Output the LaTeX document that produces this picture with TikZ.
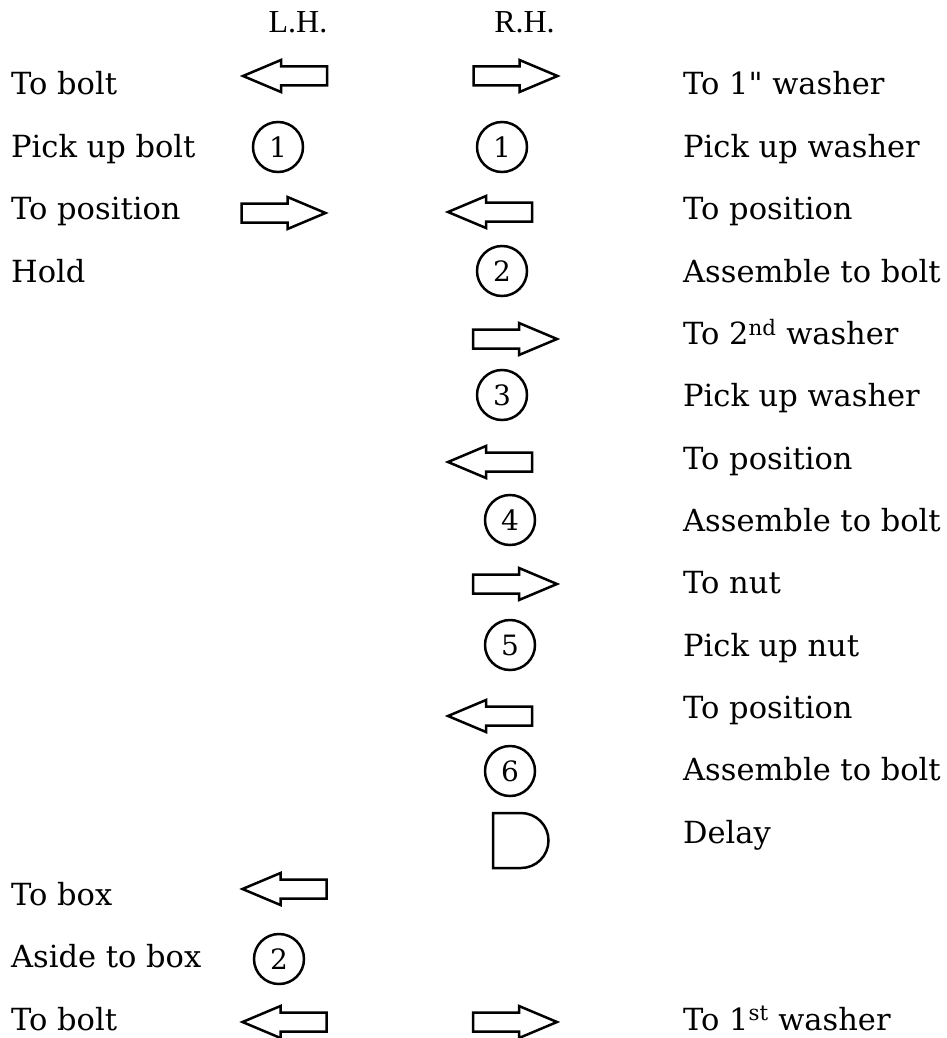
\documentclass[tikz,border=0pt]{standalone}
\usepackage{fontspec}
\setmainfont{DejaVu Serif}
\newfontfamily\hdrfont{Liberation Serif}
\newfontfamily\qfont{DejaVu Serif}
\begin{document}
\begin{tikzpicture}[x=1pt,y=-1pt,
  lbl/.style={anchor=base west, inner sep=0pt, font=\fontsize{30.5}{36}\selectfont},
  hdr/.style={anchor=base, inner sep=0pt, font=\hdrfont\fontsize{32}{38}\selectfont},
  num/.style={circle, draw, line width=2.5pt, minimum size=50pt, inner sep=0pt, font=\fontsize{28}{32}\selectfont},
  shp/.style={draw, line width=2.5pt, line join=miter},
  rarr/.pic={\draw[shp] (-42,-9.5) -- (4,-9.5) -- (4,-16) -- (42,0) -- (4,16) -- (4,9.5) -- (-42,9.5) -- cycle;},
  larr/.pic={\draw[shp] (42,-9.5) -- (-4,-9.5) -- (-4,-16) -- (-42,0) -- (-4,16) -- (-4,9.5) -- (42,9.5) -- cycle;},
  delay/.pic={\draw[shp] (0,27.5) -- (-28,27.5) -- (-28,-27.5) -- (0,-27.5) arc[start angle=-90, end angle=90, radius=27.5];}
]
\useasboundingbox (0,0) rectangle (947,1038);

% headers
\node[hdr] (lh) at (298,33) {L.H.};
\node[hdr] (rh) at (524.5,33) {R.H.};

% left column texts
\node[lbl] (l0) at (11,95) {To bolt};
\node[lbl] (l1) at (11,157.3) {Pick up bolt};
\node[lbl] (l2) at (11,219.7) {To position};
\node[lbl] (l3) at (11,282) {Hold};
\node[lbl] (l13) at (11,905.3) {To box};
\node[lbl] (l14) at (11,967.7) {Aside to box};
\node[lbl] (l15) at (11,1030) {To bolt};

% right column texts
\node[lbl] (r0) at (683,95) {To 1{\qfont"} washer};
\node[lbl] (r1) at (683,157.3) {Pick up washer};
\node[lbl] (r2) at (683,219.7) {To position};
\node[lbl] (r3) at (683,282) {Assemble to bolt};
\node[lbl] (r4) at (683,344.3) {To 2\textsuperscript{nd} washer};
\node[lbl] (r5) at (683,406.7) {Pick up washer};
\node[lbl] (r6) at (683,469) {To position};
\node[lbl] (r7) at (683,531.3) {Assemble to bolt};
\node[lbl] (r8) at (683,593.7) {To nut};
\node[lbl] (r9) at (683,656) {Pick up nut};
\node[lbl] (r10) at (683,718.3) {To position};
\node[lbl] (r11) at (683,780.7) {Assemble to bolt};
\node[lbl] (r12) at (683,843) {Delay};
\node[lbl] (r15) at (683,1030) {To 1\textsuperscript{st} washer};

% left hand symbols
\pic (la0) at (285,76) {larr};
\node[num] (lc1) at (278,147) {1};
\pic (la2) at (283.5,213) {rarr};
\pic (la13) at (284.5,889) {larr};
\node[num] (lc14) at (279,959) {2};
\pic (la15) at (284.5,1022) {larr};

% right hand symbols
\pic (ra0) at (515.5,76) {rarr};
\node[num] (rc1) at (502,147) {1};
\pic (ra2) at (490,212) {larr};
\node[num] (rc3) at (502,271) {2};
\pic (ra4) at (515,339) {rarr};
\node[num] (rc5) at (502,395) {3};
\pic (ra6) at (490,462) {larr};
\node[num] (rc7) at (510,520) {4};
\pic (ra8) at (515,584) {rarr};
\node[num] (rc9) at (510,645) {5};
\pic (ra10) at (490,716) {larr};
\node[num] (rc11) at (510,771) {6};
\pic (rd12) at (521,840.5) {delay};
\pic (ra15) at (515,1022) {rarr};
\end{tikzpicture}
\end{document}
